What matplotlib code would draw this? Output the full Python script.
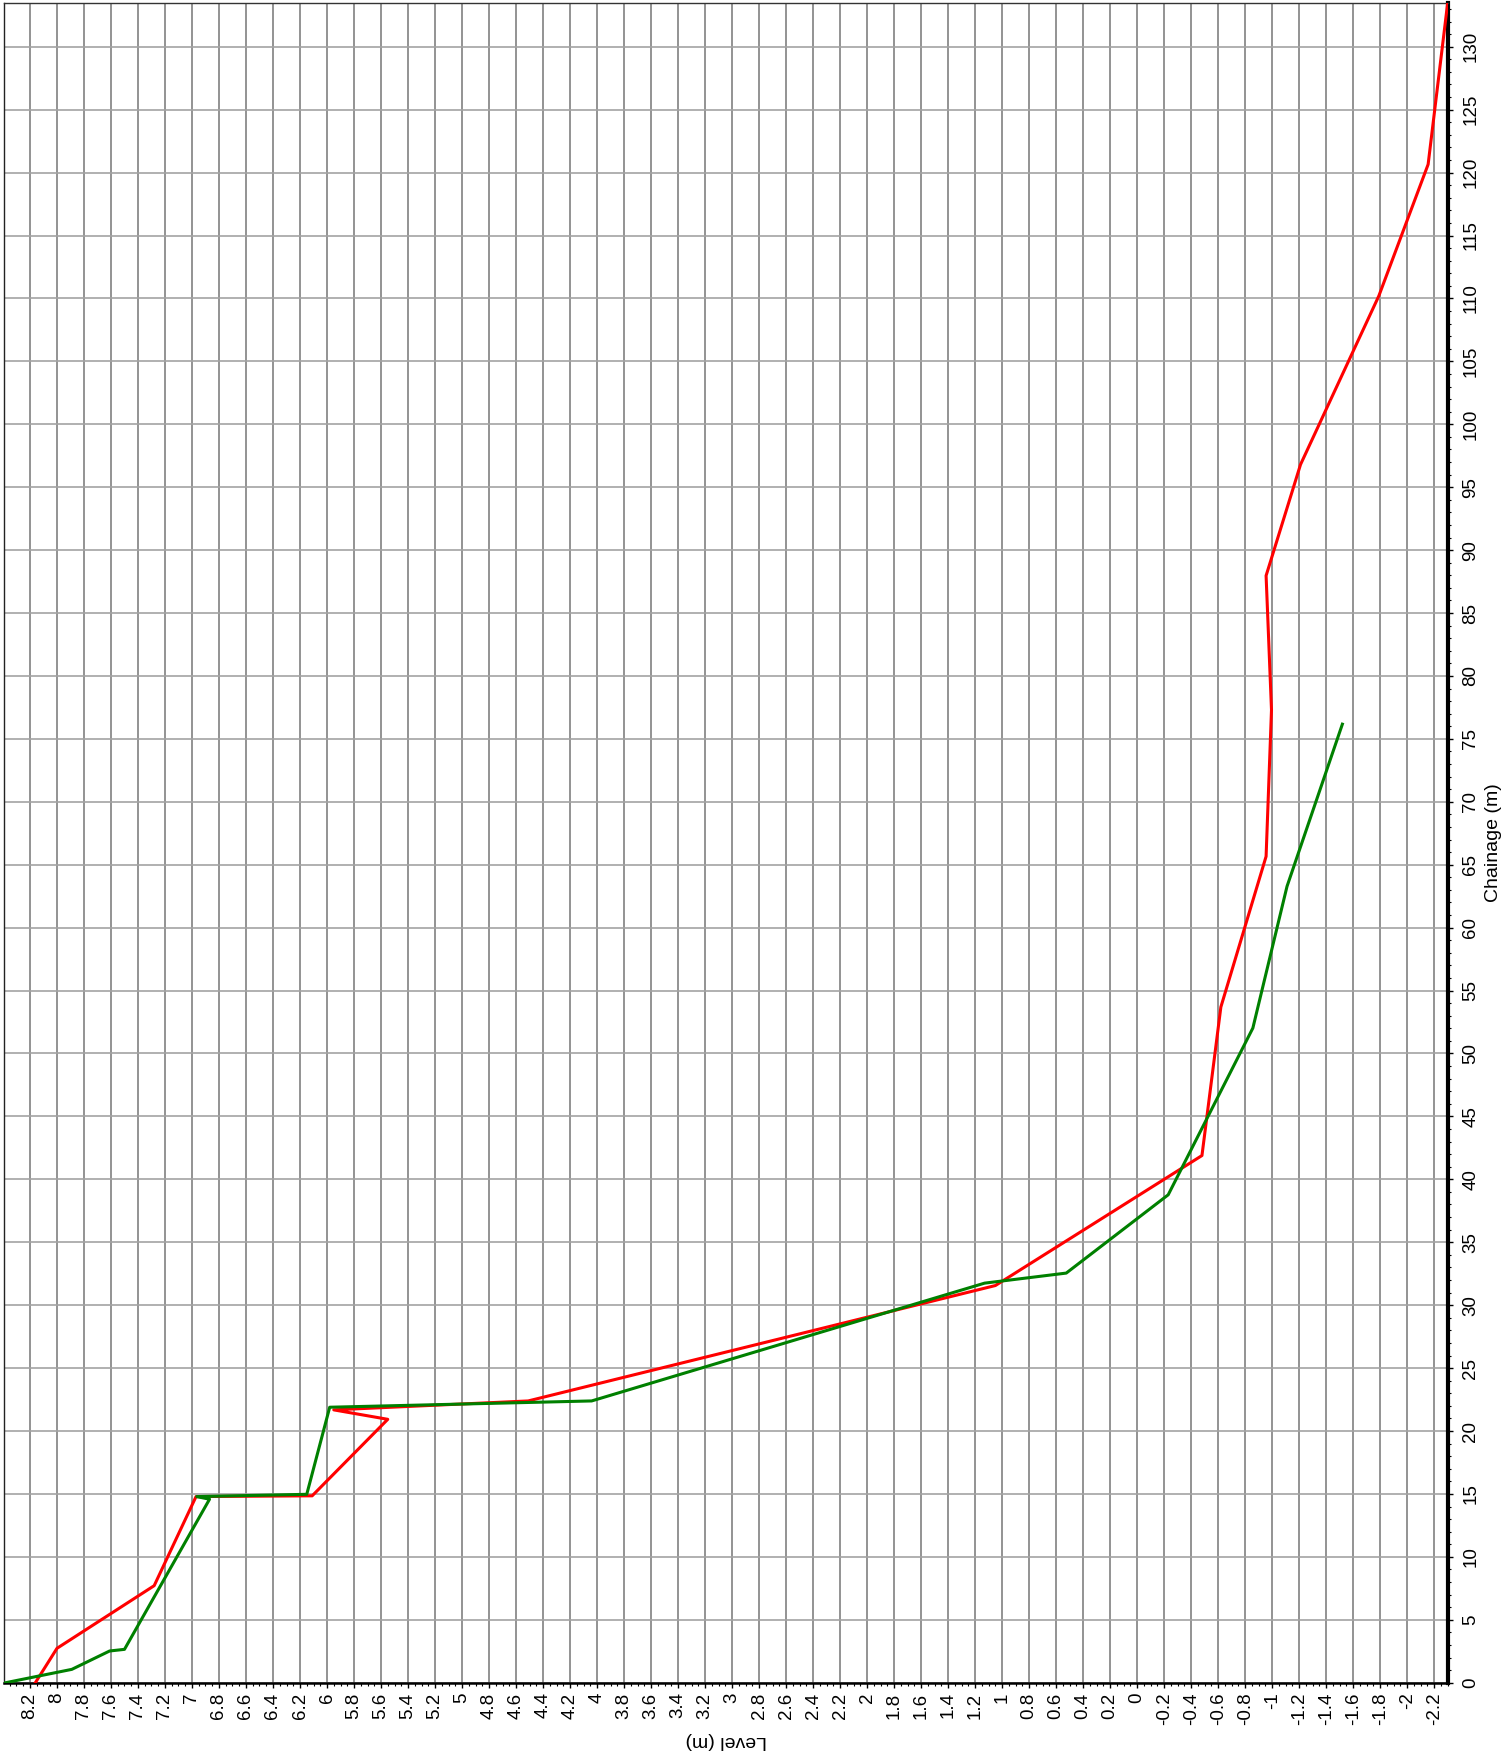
import matplotlib
matplotlib.use('Agg')
import matplotlib.pyplot as plt
from matplotlib.ticker import MultipleLocator, FuncFormatter
import numpy as np

# Profile readings: chainage (m) and level (m)
red_chainage = [0.0, 2.73, 7.71, 14.79, 14.85, 20.93, 21.68, 22.39, 31.56,
                41.89, 53.69, 65.66, 77.3, 87.97, 96.8, 110.2, 120.65, 133.5]
red_level = [8.16, 8.00, 7.28, 6.97, 6.11, 5.55, 5.95, 4.51, 1.05,
             -0.48, -0.62, -0.955, -0.995, -0.955, -1.21, -1.79, -2.155, -2.30]

green_chainage = [0.0, 1.06, 2.52, 2.65, 14.58, 14.79, 14.97, 21.89, 22.39,
                  31.75, 32.55, 38.77, 52.02, 63.28, 76.17]
green_level = [8.38, 7.89, 7.61, 7.50, 6.87, 6.965, 6.15, 5.98, 4.04,
               1.13, 0.525, -0.23, -0.857, -1.11, -1.52]

level_ticks = np.round(np.arange(-2.2, 8.21, 0.2), 1)
chainage_ticks = np.arange(0, 131, 5)

plt.rcParams['font.family'] = ['Liberation Sans', 'DejaVu Sans']
plt.rcParams['axes.unicode_minus'] = False

fig = plt.figure(figsize=(15.1, 17.54), dpi=100)
ax = fig.add_axes([0.00285, 0.04065, 0.95589, 0.95781])

ax.plot(red_level, red_chainage, color='#ff0000', lw=2.2, zorder=3)
ax.plot(green_level, green_chainage, color='#008000', lw=2.2, zorder=4)

ax.set_xlim(8.39, -2.3)
ax.set_ylim(0, 133.5)

ax.set_xticks(level_ticks)
ax.xaxis.set_minor_locator(MultipleLocator(0.05))
ax.xaxis.set_major_formatter(FuncFormatter(lambda v, p: '%g' % (round(v, 1) + 0.0)))
ax.set_yticks(chainage_ticks)
ax.yaxis.set_minor_locator(MultipleLocator(1))

ax.set_axisbelow(True)
ax.grid(axis='x', which='major', color='#8a8a8a', lw=1.3)
ax.grid(axis='y', which='major', color='#a3a3a3', lw=1.2)

ax.yaxis.tick_right()
ax.yaxis.set_label_position('right')

ax.tick_params(axis='x', which='major', direction='out', length=3.5, width=1,
               pad=3.5, labelsize=13.5, labelrotation=90)
ax.tick_params(axis='x', which='minor', direction='out', length=2, width=0.8)
ax.tick_params(axis='y', which='major', direction='out', length=3.5, width=1,
               pad=7, labelsize=13.5, labelrotation=90)
ax.tick_params(axis='y', which='minor', direction='out', length=2.5, width=0.8)
plt.setp(ax.yaxis.get_majorticklabels(), va='center')

ax.spines['left'].set_linewidth(1.0)
ax.spines['left'].set_color('#222222')
ax.spines['top'].set_linewidth(1.0)
ax.spines['top'].set_color('#333333')
ax.spines['bottom'].set_linewidth(1.8)
ax.spines['right'].set_linewidth(3)

ax.set_xlabel('Level (m)', fontsize=14, rotation=180, va='center')
ax.xaxis.set_label_coords(0.5, -0.0347)
ax.set_ylabel('Chainage (m)', fontsize=14, rotation=90, va='center')
ax.yaxis.set_label_coords(1.032, 0.5)

plt.savefig('out.png', dpi=100)
